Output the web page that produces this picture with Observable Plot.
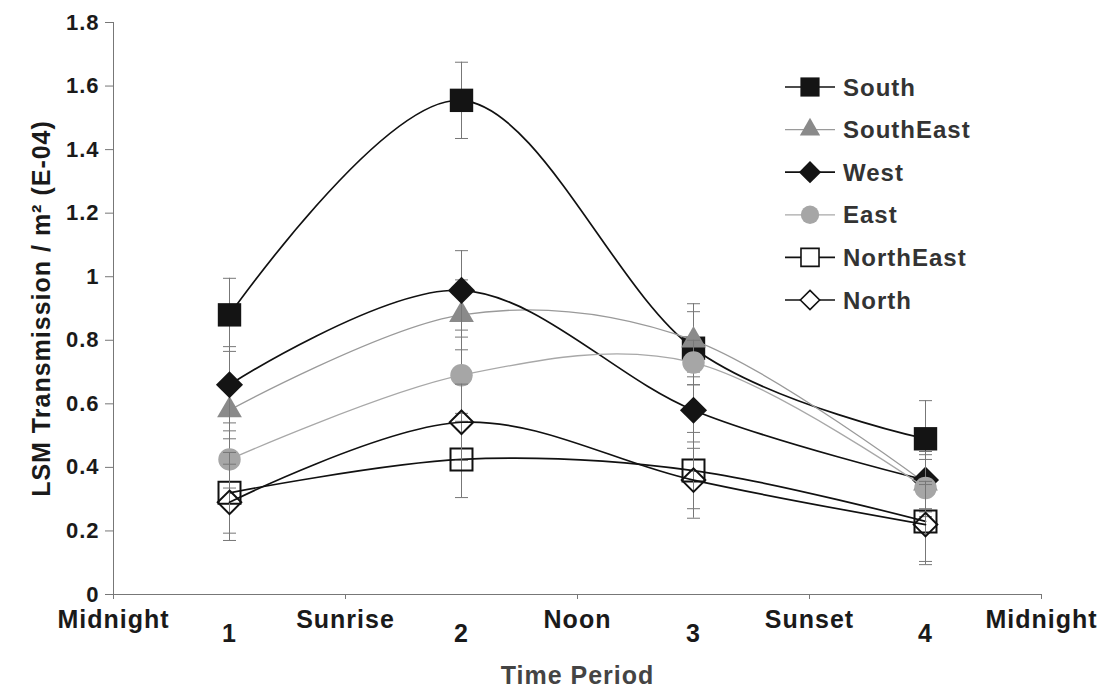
<!DOCTYPE html>
<html>
<head>
<meta charset="utf-8">
<script src="https://cdn.jsdelivr.net/npm/d3@7"></script>
<script src="https://cdn.jsdelivr.net/npm/@observablehq/plot@0.6"></script>
<style>
  html, body { margin: 0; padding: 0; background: #fff; }
  #wrap { position: relative; width: 1106px; height: 699px; }
  #legend { position: absolute; left: 0; top: 0; pointer-events: none; }
</style>
</head>
<body>
<div id="wrap"></div>
<script>
// ---- data ----
const timeTicks = [0, 1, 2, 3, 4];
const timeLabels = ["Midnight", "Sunrise", "Noon", "Sunset", "Midnight"];
const periodPos = [0.5, 1.5, 2.5, 3.5];
const periodLabels = ["1", "2", "3", "4"];
const yTicks = [0, 0.2, 0.4, 0.6, 0.8, 1, 1.2, 1.4, 1.6, 1.8];

const seriesNames = ["South", "SouthEast", "West", "East", "NorthEast", "North"];
const south        = [0.88, 1.555, 0.775, 0.49];
const southErr     = [0.115, 0.12, 0.115, 0.12];
const southEast    = [0.58, 0.88, 0.80, 0.35];
const southEastErr = [0.09, 0.11, 0.115, 0.09];
const west         = [0.66, 0.957, 0.58, 0.36];
const westErr      = [0.12, 0.125, 0.12, 0.09];
const east         = [0.425, 0.69, 0.73, 0.335];
const eastErr      = [0.09, 0.12, 0.07, 0.09];
const northEast    = [0.32, 0.425, 0.39, 0.23];
const northEastErr = [0.127, 0.12, 0.12, 0.126];
const north        = [0.29, 0.542, 0.36, 0.22];
const northErr     = [0.12, 0.12, 0.12, 0.126];

const values = [south, southEast, west, east, northEast, north];
const errors = [southErr, southEastErr, westErr, eastErr, northEastErr, northErr];

// ---- styles ----
const styles = {
  South:     {line: "#111", lw: 1.7, symbol: "square",   fill: "#141414", stroke: "none", sw: 0,   r: 13.2},
  SouthEast: {line: "#9a9a9a", lw: 1.3, symbol: "triangle", fill: "#8a8a8a", stroke: "none", sw: 0, r: 9.2},
  West:      {line: "#111", lw: 1.7, symbol: "diamond2", fill: "#141414", stroke: "none", sw: 0,   r: 12.2},
  East:      {line: "#a8a8a8", lw: 1.3, symbol: "circle", fill: "#a6a6a6", stroke: "none", sw: 0,  r: 11.2},
  NorthEast: {line: "#111", lw: 1.7, symbol: "square",   fill: "none",    stroke: "#111", sw: 2,   r: 12.4},
  North:     {line: "#111", lw: 1.7, symbol: "diamond2", fill: "none",    stroke: "#111", sw: 2,   r: 10.6}
};

const rows = [];
seriesNames.forEach((s, k) => {
  values[k].forEach((v, i) => {
    rows.push({series: s, x: periodPos[i], y: v, lo: v - errors[k][i], hi: v + errors[k][i]});
  });
});

const capSymbol = {
  draw(ctx) { ctx.moveTo(-6.5, 0); ctx.lineTo(6.5, 0); }
};

const fontFamily = "'Liberation Sans', Arial, Helvetica, sans-serif";

const seriesMarks = seriesNames.flatMap(s => {
  const st = styles[s];
  const d = rows.filter(r => r.series === s);
  return [
    Plot.ruleX(d, {x: "x", y1: "lo", y2: "hi", stroke: "#777", strokeWidth: 1}),
    Plot.dot(d, {x: "x", y: "hi", symbol: capSymbol, stroke: "#777", strokeWidth: 1, r: 4}),
    Plot.dot(d, {x: "x", y: "lo", symbol: capSymbol, stroke: "#777", strokeWidth: 1, r: 4}),
    Plot.line(d, {x: "x", y: "y", stroke: st.line, strokeWidth: st.lw, curve: "cardinal"}),
    Plot.dot(d, {x: "x", y: "y", symbol: st.symbol, r: st.r, fill: st.fill, stroke: st.stroke, strokeWidth: st.sw})
  ];
});

const chart = Plot.plot({
  width: 1106,
  height: 699,
  marginLeft: 113,
  marginRight: 65,
  marginTop: 22,
  marginBottom: 105,
  style: {fontFamily, fontWeight: "bold", color: "#1a1a1a", letterSpacing: "1px", background: "#fff"},
  x: {domain: [0, 4]},
  y: {domain: [0, 1.8]},
  marks: [
    Plot.axisY({ticks: yTicks, tickFormat: d => String(+d.toFixed(1)), tickSize: 8, tickPadding: 6,
      stroke: "#777", fontSize: 22, label: null}),
    Plot.axisX({ticks: timeTicks, tickFormat: d => timeLabels[timeTicks.indexOf(d)], tickSize: 5, tickPadding: 11,
      stroke: "#777", fontSize: 25, label: null}),
    Plot.ruleX([0], {stroke: "#777", strokeWidth: 1}),
    Plot.ruleY([0], {stroke: "#777", strokeWidth: 1}),
    Plot.text(periodLabels, {x: (d, i) => periodPos[i], y: () => 0, text: d => d, dy: 39,
      fontSize: 25, fill: "#1a1a1a"}),
    Plot.text(["LSM Transmission / m² (E-04)"], {frameAnchor: "left", textAnchor: "middle", rotate: -90, dx: -72,
      fontSize: 25, fill: "#1a1a1a", text: d => d}),
    Plot.text(["Time Period"], {frameAnchor: "bottom", dy: 89, fontSize: 25, fill: "#444", text: d => d}),
    ...seriesMarks
  ]
});

const wrap = document.getElementById("wrap");
wrap.appendChild(chart);

// ---- legend (overlay) ----
const legend = d3.select(wrap).append("svg")
  .attr("id", "legend")
  .attr("width", 1106).attr("height", 699)
  .style("font-family", fontFamily).style("font-weight", "bold").style("letter-spacing", "1px");

const legendTop = 87, legendStep = 42.6, lx0 = 785, lx1 = 835, lxm = 810, ltx = 843;
const symMap = {square: d3.symbolSquare, triangle: d3.symbolTriangle, diamond2: d3.symbolDiamond2, circle: d3.symbolCircle};
seriesNames.forEach((s, k) => {
  const st = styles[s];
  const y = legendTop + k * legendStep;
  const g = legend.append("g");
  g.append("line").attr("x1", lx0).attr("x2", lx1).attr("y1", y).attr("y2", y)
    .attr("stroke", st.line).attr("stroke-width", st.lw);
  const rr = st.r * 0.82;
  g.append("path").attr("transform", `translate(${lxm},${y})`)
    .attr("d", d3.symbol(symMap[st.symbol], Math.PI * rr * rr)())
    .attr("fill", st.fill === "none" ? "#fff" : st.fill)
    .attr("stroke", st.stroke === "none" ? "none" : st.stroke).attr("stroke-width", st.sw * 0.8);
  g.append("text").attr("x", ltx).attr("y", y).attr("dy", "0.36em")
    .attr("font-size", 24).attr("fill", "#333").text(s);
});
</script>
</body>
</html>
